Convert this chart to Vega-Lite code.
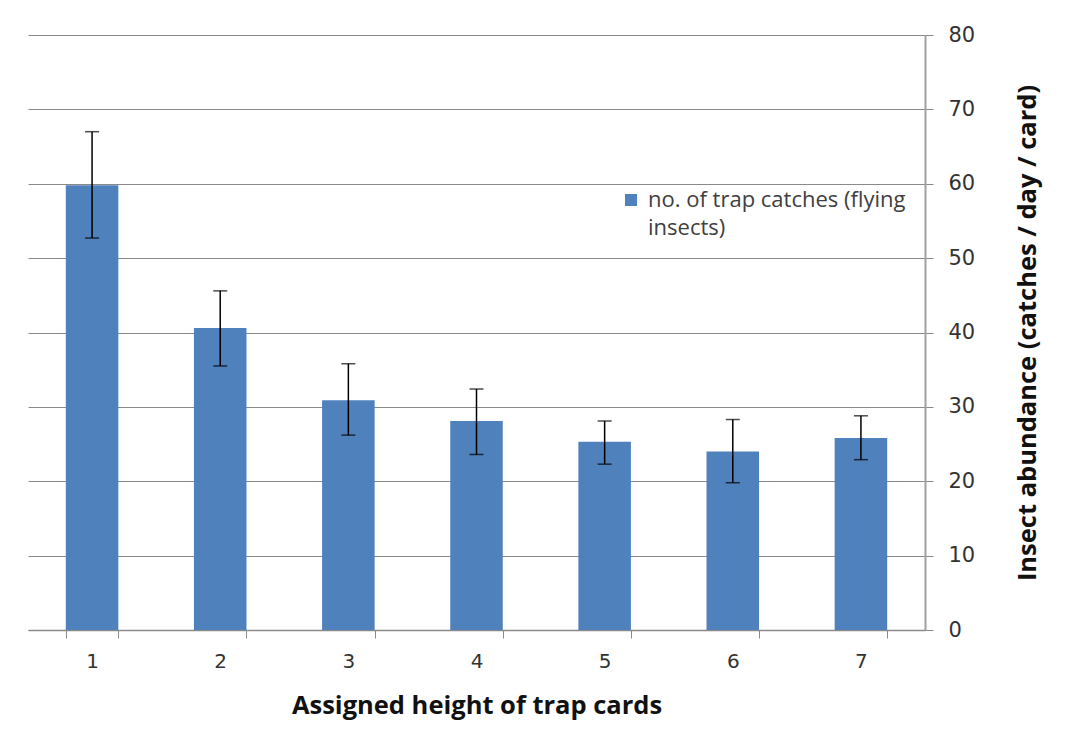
{
  "$schema": "https://vega.github.io/schema/vega-lite/v6.json",
  "width": 897,
  "height": 595,
  "autosize": {"type": "none"},
  "padding": {"left": 28, "top": 35, "right": 158, "bottom": 103},
  "background": "white",
  "config": {
    "view": {"stroke": null},
    "font": "Open Sans"
  },
  "data": {
    "values": [
      {"height": "1", "mean": 59.8, "lo": 52.7, "hi": 67.0, "series": "no. of trap catches (flying insects)"},
      {"height": "2", "mean": 40.6, "lo": 35.5, "hi": 45.6, "series": "no. of trap catches (flying insects)"},
      {"height": "3", "mean": 30.9, "lo": 26.2, "hi": 35.8, "series": "no. of trap catches (flying insects)"},
      {"height": "4", "mean": 28.1, "lo": 23.6, "hi": 32.4, "series": "no. of trap catches (flying insects)"},
      {"height": "5", "mean": 25.3, "lo": 22.3, "hi": 28.1, "series": "no. of trap catches (flying insects)"},
      {"height": "6", "mean": 24.0, "lo": 19.8, "hi": 28.3, "series": "no. of trap catches (flying insects)"},
      {"height": "7", "mean": 25.8, "lo": 22.9, "hi": 28.8, "series": "no. of trap catches (flying insects)"}
    ]
  },
  "encoding": {
    "x": {
      "field": "height",
      "type": "ordinal",
      "scale": {"paddingInner": 0.59, "paddingOuter": 0.295},
      "axis": {
        "title": "Assigned height of trap cards",
        "titleFont": "Open Sans",
        "titleFontSize": 25.5,
        "titleFontWeight": "bold",
        "titleColor": "#111111",
        "titlePadding": 22,
        "labelAngle": 0,
        "labelFont": "DejaVu Sans",
        "labelFontSize": 20,
        "labelColor": "#333333",
        "labelPadding": 13,
        "tickBand": "extent",
        "tickSize": 8,
        "tickColor": "#8a8a8a",
        "domainColor": "#8a8a8a",
        "domainWidth": 1.5,
        "grid": false
      }
    }
  },
  "layer": [
    {
      "mark": {"type": "bar"},
      "encoding": {
        "y": {
          "field": "mean",
          "type": "quantitative",
          "scale": {"domain": [0, 80]},
          "axis": {
            "orient": "right",
            "values": [0, 10, 20, 30, 40, 50, 60, 70, 80],
            "title": "Insect abundance (catches / day / card)",
            "titleAngle": 270,
            "titleFont": "Open Sans",
            "titleFontSize": 25.5,
            "titleFontWeight": "bold",
            "titleColor": "#111111",
            "titlePadding": 66,
            "labelFont": "DejaVu Sans",
            "labelFontSize": 21,
            "labelColor": "#333333",
            "labelPadding": 15,
            "tickSize": 8,
            "tickColor": "#8a8a8a",
            "domainColor": "#a0a0a0",
            "domainWidth": 2,
            "grid": true,
            "gridColor": "#8a8a8a",
            "gridWidth": 1.2
          }
        },
        "color": {
          "field": "series",
          "type": "nominal",
          "scale": {"range": ["#4F81BD"]},
          "legend": {
            "title": null,
            "orient": "none",
            "legendX": 592,
            "legendY": 154,
            "symbolType": "square",
            "symbolSize": 144,
            "symbolStrokeWidth": 0,
            "labelFontSize": 22,
            "labelColor": "#404040",
            "labelLimit": 400,
            "labelOffset": 6,
            "labelExpr": "['no. of trap catches (flying', 'insects)']",
            "encode": {"labels": {"update": {"lineHeight": {"value": 28}}}}
          }
        }
      }
    },
    {
      "mark": {"type": "rule", "color": "#000000", "strokeWidth": 1.5},
      "encoding": {
        "y": {"field": "lo", "type": "quantitative"},
        "y2": {"field": "hi"}
      }
    },
    {
      "mark": {"type": "tick", "color": "#000000", "thickness": 1.5, "size": 14},
      "encoding": {"y": {"field": "lo", "type": "quantitative"}}
    },
    {
      "mark": {"type": "tick", "color": "#000000", "thickness": 1.5, "size": 14},
      "encoding": {"y": {"field": "hi", "type": "quantitative"}}
    }
  ]
}
